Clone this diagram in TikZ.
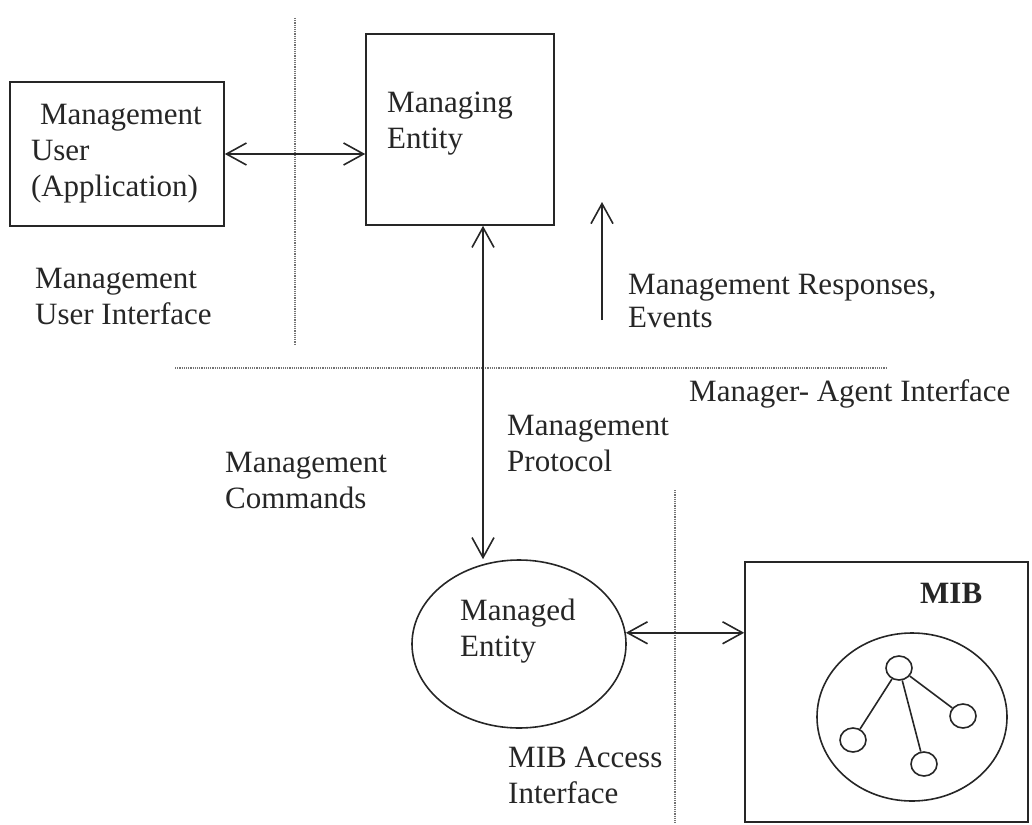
\documentclass[tikz,border=0pt]{standalone}
\usepackage{fontspec}
\setmainfont{Liberation Serif}
\usetikzlibrary{arrows.meta,shapes.geometric}
\begin{document}
\begin{tikzpicture}[x=1pt,y=-1pt,
  ink/.style={draw=black!85, line width=1.6pt},
  blockbox/.style={ink, rectangle, inner sep=0pt},
  oval/.style={ink, ellipse, inner sep=0pt},
  txt/.style={text=black!85, font=\fontsize{31}{36}\selectfont},
  lbl/.style={txt, anchor=north west, inner sep=0pt, align=left},
  barb/.tip={Straight Barb[length=20pt,width=22pt]},
  link/.style={ink, barb-barb},
  oneway/.style={ink, -barb},
  guide/.style={draw=black!55, line width=1.2pt, dash pattern=on 1.2pt off 1pt},
]
\useasboundingbox (0,0) rectangle (1032,824);

% dotted interface boundaries
\coordinate (g1a) at (295,18);
\coordinate (g1b) at (295,345);
\coordinate (g2a) at (175,368);
\coordinate (g2b) at (887,368);
\coordinate (g3a) at (675,490);
\coordinate (g3b) at (675,824);
\draw[guide] (g1a) -- (g1b);
\draw[guide] (g2a) -- (g2b);
\draw[guide] (g3a) -- (g3b);

% management user
\node[blockbox, txt, minimum width=214pt, minimum height=144pt,
      text width=172pt, align=left] (usr) at (117,154)
  {\hspace*{9pt}Management\\User\\(Application)};

% managing entity
\node[blockbox, minimum width=188pt, minimum height=191pt] (mgr) at (460,129.5) {};
\node[lbl] (mgrtxt) at (387,91.5) {Managing\\Entity};

% managed entity
\node[oval, minimum width=214pt, minimum height=168pt] (ment) at (519,644) {};
\node[lbl] (menttxt) at (460,599) {Managed\\Entity};

% MIB with its object tree
\node[blockbox, minimum width=283pt, minimum height=260pt] (mib) at (886.5,692) {};
\node[lbl, font=\fontsize{31}{36}\selectfont\bfseries] (mibtxt) at (920,582.5) {MIB};
\node[oval, minimum width=190pt, minimum height=168pt] (tree) at (912,717) {};
\node[oval, minimum width=26pt, minimum height=24pt] (n0) at (899,668) {};
\node[oval, minimum width=26pt, minimum height=24pt] (n1) at (853,740) {};
\node[oval, minimum width=26pt, minimum height=24pt] (n2) at (924,764) {};
\node[oval, minimum width=26pt, minimum height=24pt] (n3) at (963,716) {};
\draw[ink] (n0) -- (n1);
\draw[ink] (n0) -- (n2);
\draw[ink] (n0) -- (n3);

% labels
\node[lbl] (uilbl) at (35,267.5) {Management\\User Interface};
\node[lbl, font=\fontsize{31}{33}\selectfont] (evlbl) at (628,273.5) {Management Responses,\\Events};
\node[lbl] (malbl) at (689,379.5) {Manager- Agent Interface};
\node[lbl] (prlbl) at (507,414.5) {Management\\Protocol};
\node[lbl] (cmlbl) at (225,451.5) {Management\\Commands};
\node[lbl] (aclbl) at (508,746.5) {MIB Access\\Interface};

% connectors
\coordinate (vx) at (483,0);
\draw[link] (usr.east) -- (mgr.west |- usr.east);
\draw[link] (mgr.south -| vx) -- (ment.north -| vx);
\draw[link] (ment.6) -- (ment.6 -| mib.west);
\coordinate (evb) at (602,320);
\coordinate (evt) at (602,202);
\draw[oneway] (evb) -- (evt);
\end{tikzpicture}
\end{document}
